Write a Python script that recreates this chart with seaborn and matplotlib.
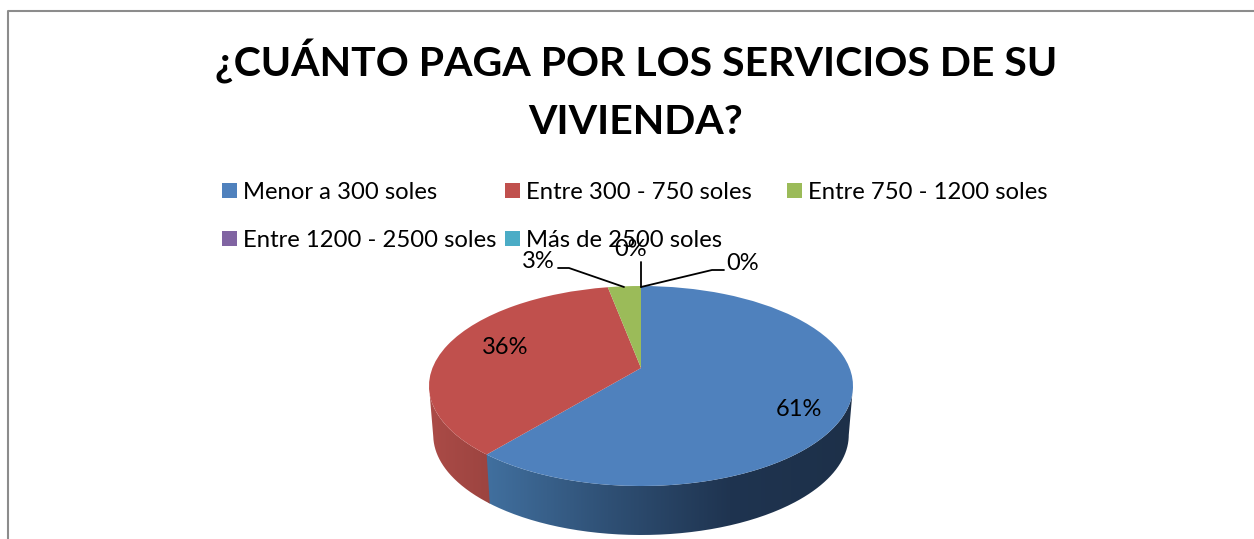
import numpy as np
import matplotlib
matplotlib.use("Agg")
import matplotlib.pyplot as plt
import seaborn as sns
from matplotlib.colors import LinearSegmentedColormap
from matplotlib.patches import Patch, PathPatch
from matplotlib.path import Path
from matplotlib.transforms import Affine2D, Transform

title = "¿CUÁNTO PAGA POR LOS SERVICIOS DE SU\nVIVIENDA?"
categories = ["Menor a 300 soles", "Entre 300 - 750 soles", "Entre 750 - 1200 soles",
              "Entre 1200 - 2500 soles", "Más de 2500 soles"]
values = [61, 36, 3, 0, 0]
colors = ["#4f81bd", "#c0504d", "#9bbb59", "#8064a2", "#4bacc6"]
side_colors = [["#41709f", "#2f5075", "#1f3450", "#1d3049"], ["#ab4b47", "#9c4440"]]

# where the labels sit, same order as values
label_pos = [(799, 409), (505, 347), (538, 262), (631, 249), (743, 264)]
leaders = [None, None,
           [(558, 268), (569, 268), (624, 287)],
           [(641, 262), (641, 287)],
           [(724, 270), (712, 270), (641, 287)]]

PIE_X, PIE_Y = 641, 386
RX, RY = 212, 100
DEPTH = 49
TILT = 0.18


class Perspective(Transform):
    # moves the centre of the disc up, the rim stays a circle
    input_dims = 2
    output_dims = 2

    def transform_non_affine(self, xy):
        xy = np.asarray(xy, dtype=float)
        w = 1 + TILT * xy[:, 1]
        return np.column_stack([xy[:, 0] * np.sqrt(1 - TILT ** 2) / w, (xy[:, 1] + TILT) / w])


to_pixels = Perspective() + Affine2D().scale(RX, -RY).translate(PIE_X, PIE_Y)


def rim(theta):
    # theta: degrees clockwise from the top
    t = np.radians(theta)
    return to_pixels.transform(np.column_stack([np.sin(t), np.cos(t)]))


sns.set_theme(style="white")
plt.rcParams["font.family"] = ["Lato", "DejaVu Sans"]

fig = plt.figure(figsize=(12.54, 5.39), dpi=100)
ax = fig.add_axes([0, 0, 1, 1])

wedges, _ = ax.pie(values, colors=sns.color_palette(colors), startangle=90, counterclock=False,
                   wedgeprops={"linewidth": 0})
for w in wedges:
    w.set_transform(to_pixels + ax.transData)
    w.set_zorder(3)

# the visible side of the pie, only the rim below the middle of the ellipse
front = np.degrees(np.arccos(-TILT))
stops = np.cumsum([0] + values) * 3.6
for i in range(2):
    start = max(stops[i], front)
    end = min(stops[i + 1], 360 - front)
    if i == 0:
        end += 0.5  # runs under the red side, no seam
    theta = np.linspace(start, end, 200)
    top = rim(theta)
    bottom = top + [0, DEPTH]
    bottom[:, 0] = PIE_X + (bottom[:, 0] - PIE_X) * 0.98
    outline = np.vstack([top, bottom[::-1], top[:1]])
    shape = PathPatch(Path(outline), transform=ax.transData, facecolor="none", edgecolor="none")
    ax.add_patch(shape)
    cmap = LinearSegmentedColormap.from_list(f"side{i}", side_colors[i])
    shade = ax.imshow(np.linspace(0, 1, 256)[None, :], cmap=cmap, aspect="auto", zorder=2,
                      extent=[outline[:, 0].min(), outline[:, 0].max(),
                              outline[:, 1].max(), outline[:, 1].min()])
    shade.set_clip_path(shape)

for v, pos, leader in zip(values, label_pos, leaders):
    ax.text(pos[0], pos[1], f"{v}%", fontsize=17, color="black", ha="center", va="center", zorder=6)
    if leader:
        ax.plot(*zip(*leader), color="black", lw=1.3, zorder=5)

ax.text(636, 90, title, fontsize=29.5, fontweight="bold", color="black", ha="center", va="center",
        linespacing=1.64, zorder=6)

# three columns with their own widths
handles = [Patch(color=c, linewidth=0) for c in colors]
for col, x in zip(range(3), [222, 505, 787]):
    fig.legend(handles[col::3], categories[col::3], loc="upper left", bbox_to_anchor=(x, 182),
               bbox_transform=ax.transData, frameon=False, fontsize=17.2, borderpad=0,
               borderaxespad=0, handlelength=0.63, handleheight=0.63, handletextpad=0.25,
               labelspacing=1.12, labelcolor="black")

ax.plot([7.5, 7.5, 1254], [539, 11, 11], color="#8c8c8c", lw=1.5, zorder=1)

ax.set_xlim(0, 1254)
ax.set_ylim(539, 0)
ax.set_aspect("auto")
ax.axis("off")

fig.savefig("out.png", dpi=100, facecolor="white")
